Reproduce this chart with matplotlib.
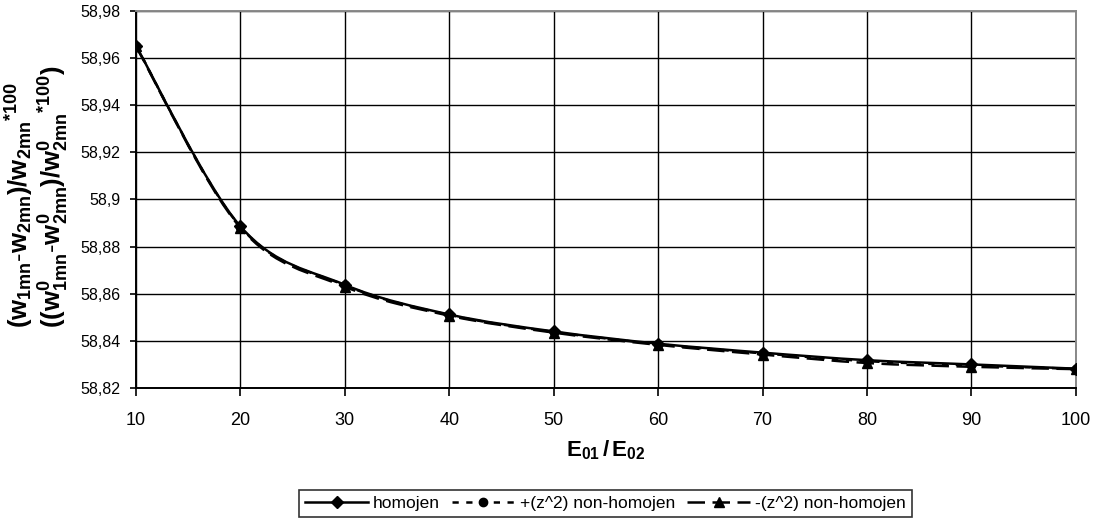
"""
Recreate the E01/E02 frequency ratio chart (homojen vs non-homojen).
"""

import matplotlib
matplotlib.use("Agg")
import matplotlib.pyplot as plt
import numpy as np
from matplotlib.lines import Line2D
from matplotlib.patches import PathPatch
from matplotlib.path import Path
from matplotlib.ticker import FuncFormatter, MultipleLocator

plt.rcParams["font.family"] = ["Liberation Sans", "DejaVu Sans"]
plt.rcParams["mathtext.fontset"] = "custom"
plt.rcParams["mathtext.rm"] = "Liberation Sans"
plt.rcParams["mathtext.it"] = "Liberation Sans"
plt.rcParams["mathtext.bf"] = "Liberation Sans:bold"
plt.rcParams["mathtext.default"] = "bf"

ratio = [10, 20, 30, 40, 50, 60, 70, 80, 90, 100]
homojen = [58.9652, 58.8886, 58.8638, 58.8512, 58.8440, 58.8388, 58.8350, 58.8318, 58.8300, 58.8282]
plus_nonhom = [58.9652, 58.8884, 58.8636, 58.8510, 58.8438, 58.8386, 58.8347, 58.8314, 58.8296, 58.8281]
minus_nonhom = [58.9650, 58.8880, 58.8630, 58.8507, 58.8435, 58.8383, 58.8342, 58.8306, 58.8290, 58.8280]

series_labels = ["homojen", "+(z^2) non-homojen", "-(z^2) non-homojen"]
y_ticks = [58.82, 58.84, 58.86, 58.88, 58.90, 58.92, 58.94, 58.96, 58.98]


def smooth_path(x, y):
    """Excel-like smoothed line as cubic Bezier segments (Catmull-Rom)."""
    pts = np.column_stack([x, y]).astype(float)
    n = len(pts)
    verts = [pts[0]]
    codes = [Path.MOVETO]
    for i in range(n - 1):
        p0 = pts[max(i - 1, 0)]
        p1 = pts[i]
        p2 = pts[i + 1]
        p3 = pts[min(i + 2, n - 1)]
        c1 = p1 + (p2 - p0) / 6.0
        c2 = p2 - (p3 - p1) / 6.0
        verts += [c1, c2, p2]
        codes += [Path.CURVE4] * 3
    return Path(verts, codes)


fig = plt.figure(figsize=(10.99, 5.21), dpi=100)
ax = fig.add_axes([0.1237, 0.2553, 0.8553, 0.7236])

styles = [
    dict(ls="-", marker="D", ms=6),
    dict(ls=(0, (2.5, 3)), marker="o", ms=6),
    dict(ls=(0, (7, 3)), marker="^", ms=7),
]

for vals, st in zip([homojen, plus_nonhom, minus_nonhom], styles):
    patch = PathPatch(smooth_path(ratio, vals), facecolor="none", edgecolor="black",
                      lw=1.8, linestyle=st["ls"], zorder=3)
    ax.add_patch(patch)
    ax.plot(ratio, vals, linestyle="none", marker=st["marker"], ms=st["ms"],
            color="black", zorder=4)

ax.set_xlim(10, 100)
ax.set_ylim(58.82, 58.98)
ax.xaxis.set_major_locator(MultipleLocator(10))
ax.set_yticks(y_ticks)
ax.yaxis.set_major_formatter(FuncFormatter(lambda v, p: f"{round(v, 2):g}".replace(".", ",")))
ax.tick_params(axis="both", direction="out", width=1.2, color="black")
ax.tick_params(axis="y", length=4, pad=7, labelsize=11.5)
ax.tick_params(axis="x", length=6, pad=11, labelsize=13)
ax.grid(True, color="black", lw=1.0)
ax.set_axisbelow(True)

for side in ["left", "bottom"]:
    ax.spines[side].set_color("black")
    ax.spines[side].set_linewidth(1.4)
for side in ["top", "right"]:
    ax.spines[side].set_color("#888888")
    ax.spines[side].set_linewidth(1.4)

ax.set_xlabel(r"$E_{01}\,/\,E_{02}$", fontsize=16, labelpad=7)

ylab = (r"$(w_{1mn}\text{-}w_{2mn})/w_{2mn}{}^{*100}$" + "\n"
        r"$((w^{0}_{1mn}\text{-}w^{0}_{2mn})/w^{0}_{2mn}{}^{*100})$")
fig.text(0.034, 1 - 328 / 521, ylab, rotation=90, ha="center", va="bottom",
         multialignment="left", fontsize=18.5, linespacing=1.0)

handles = [
    Line2D([], [], color="black", lw=1.8, ls=st["ls"], marker=st["marker"], ms=st["ms"])
    for st in styles
]
leg = fig.legend(handles, series_labels, loc="center", bbox_to_anchor=(0.551, 0.034),
                 ncol=3, fontsize=12.5, frameon=True, fancybox=False, numpoints=1,
                 handlelength=3.6, handletextpad=0.3, columnspacing=0.7,
                 borderpad=0.35, borderaxespad=0, edgecolor="black")
leg.get_frame().set_linewidth(1.2)

plt.savefig("out.png", dpi=100)
plt.close()
